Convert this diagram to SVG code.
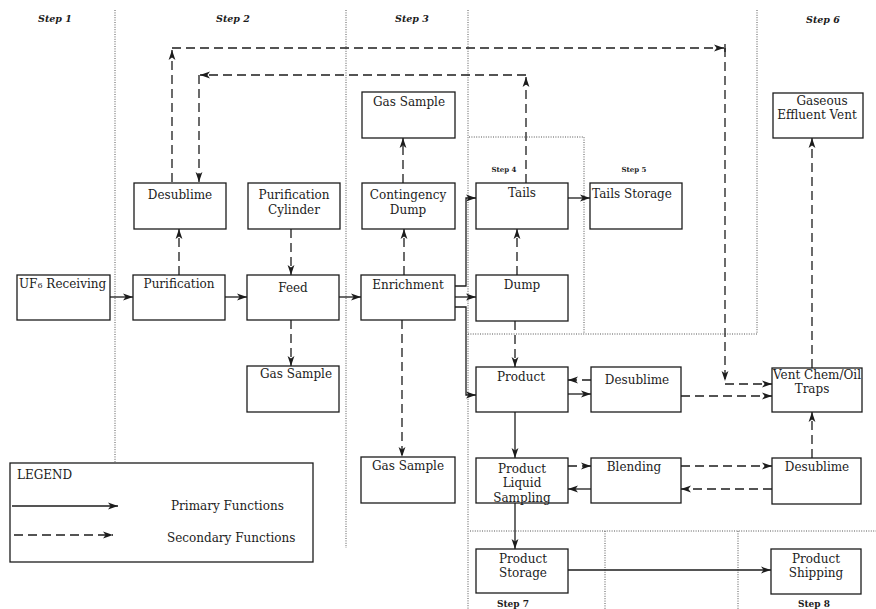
<svg xmlns="http://www.w3.org/2000/svg" width="876" height="609" viewBox="0 0 876 609">
  <style>
    .bg { fill: #ffffff; }
    .box { fill: #ffffff; stroke: #1c1c1c; stroke-width: 1.3; }
    .t { font-family: "DejaVu Serif", "Liberation Serif", serif; font-size: 12px; fill: #1c1c1c; text-anchor: middle; }
    .tl { text-anchor: start; }
    .step { font-family: "DejaVu Serif", "Liberation Serif", serif; font-size: 9.5px; font-weight: bold; font-style: italic; fill: #1c1c1c; text-anchor: middle; }
    .stepS { font-family: "DejaVu Serif", "Liberation Serif", serif; font-size: 7px; font-weight: bold; fill: #1c1c1c; text-anchor: middle; }
    .stepB { font-family: "DejaVu Serif", "Liberation Serif", serif; font-size: 9px; font-weight: bold; fill: #1c1c1c; text-anchor: middle; }
    .div { fill: none; stroke: #555555; stroke-width: 1; stroke-dasharray: 1 1.4; }
    .pri { fill: none; stroke: #1c1c1c; stroke-width: 1.3; marker-end: url(#ah); }
    .pl { fill: none; stroke: #1c1c1c; stroke-width: 1.3; }
    .sec { fill: none; stroke: #1c1c1c; stroke-width: 1.3; stroke-dasharray: 9 5; marker-end: url(#ah); }
  </style>
  <defs>
    <marker id="ah" markerUnits="userSpaceOnUse" markerWidth="10" markerHeight="8" viewBox="0 0 10 8" refX="10" refY="4" orient="auto">
      <path d="M0,0.6 L10,4 L0,7.4 L2.6,4 z" fill="#1c1c1c" stroke="none"/>
    </marker>
  </defs>

  <rect class="bg" x="0" y="0" width="876" height="609"/>

  <!-- step dividers -->
  <g id="dividers">
    <path class="div" d="M115,10 V462"/>
    <path class="div" d="M346,10 V548"/>
    <path class="div" d="M468,10 V609"/>
    <path class="div" d="M757,10 V334"/>
    <path class="div" d="M469,137 H584 V334"/>
    <path class="div" d="M468,334 H757"/>
    <path class="div" d="M470,531 H876"/>
    <path class="div" d="M605,531 V609"/>
    <path class="div" d="M738,531 V609"/>
  </g>

  <!-- step labels -->
  <g id="step-labels">
    <text class="step" x="55" y="22">Step 1</text>
    <text class="step" x="233" y="22">Step 2</text>
    <text class="step" x="412" y="22">Step 3</text>
    <text class="step" x="823" y="23">Step 6</text>
    <text class="stepS" x="504" y="172">Step 4</text>
    <text class="stepS" x="634" y="172">Step 5</text>
    <text class="stepB" x="513" y="607">Step 7</text>
    <text class="stepB" x="814" y="607">Step 8</text>
  </g>

  <!-- connectors -->
  <g id="connectors">
    <!-- primary flow -->
    <path class="pri" d="M110,297 H133"/>
    <path class="pri" d="M225,297 H247"/>
    <path class="pri" d="M339,297 H361"/>
    <path class="pri" d="M455,286 H466 V198 H476"/>
    <path class="pri" d="M455,297 H476"/>
    <path class="pri" d="M455,307 H466 V395 H476"/>
    <path class="pri" d="M568,198 H590"/>
    <path class="pri" d="M568,394 H591"/>
    <path class="pri" d="M515,412 V458"/>
    <path class="pri" d="M591,489 H568"/>
    <path class="pri" d="M515,503 V549"/>
    <path class="pri" d="M568,570 H771"/>

    <!-- secondary flow -->
    <path class="sec" d="M179,275 V229"/>
    <path class="sec" d="M291,229 V275"/>
    <path class="sec" d="M291,320 V366"/>
    <path class="sec" d="M404,275 V229"/>
    <path class="sec" d="M403,183 V138"/>
    <path class="sec" d="M402,320 V457"/>
    <path class="sec" d="M517,275 V229"/>
    <path class="sec" d="M515,321 V367"/>
    <path class="sec" d="M591,380 H568"/>
    <path class="sec" d="M681,396 H772"/>
    <path class="sec" d="M568,466 H591"/>
    <path class="sec" d="M681,466 H772"/>
    <path class="sec" d="M772,489 H681"/>
    <path class="sec" d="M812,458 V412"/>
    <path class="sec" d="M812,368 V138"/>

    <!-- desublime vent return loop -->
    <path class="sec" d="M172,182 V50"/>
    <path class="sec" d="M172,48 H724"/>
    <path class="pl" d="M725,44 V52"/>
    <path class="sec" d="M725,48 V381"/>
    <path class="sec" d="M725,384 H772"/>

    <!-- tails return loop -->
    <path class="sec" d="M526,183 V77"/>
    <path class="sec" d="M526,75 H200"/>
    <path class="sec" d="M199,75 V182"/>
  </g>

  <!-- nodes -->
  <g id="uf6-receiving">
    <rect class="box" x="17" y="275" width="93" height="45"/>
    <text class="t tl" x="19" y="288">UF<tspan font-size="8">6</tspan> Receiving</text>
  </g>
  <g id="purification">
    <rect class="box" x="133" y="275" width="92" height="45"/>
    <text class="t" x="179" y="288">Purification</text>
  </g>
  <g id="feed">
    <rect class="box" x="247" y="275" width="92" height="45"/>
    <text class="t" x="293" y="292">Feed</text>
  </g>
  <g id="enrichment">
    <rect class="box" x="361" y="275" width="94" height="45"/>
    <text class="t" x="408" y="289">Enrichment</text>
  </g>
  <g id="desublime-2">
    <rect class="box" x="134" y="183" width="92" height="46"/>
    <text class="t" x="180" y="199">Desublime</text>
  </g>
  <g id="purification-cylinder">
    <rect class="box" x="248" y="183" width="92" height="46"/>
    <text class="t" x="294" y="199">Purification</text>
    <text class="t" x="294" y="214">Cylinder</text>
  </g>
  <g id="contingency-dump">
    <rect class="box" x="362" y="183" width="93" height="46"/>
    <text class="t" x="408" y="199">Contingency</text>
    <text class="t" x="408" y="214">Dump</text>
  </g>
  <g id="gas-sample-3a">
    <rect class="box" x="362" y="92" width="93" height="46"/>
    <text class="t" x="409" y="106">Gas Sample</text>
  </g>
  <g id="gas-sample-feed">
    <rect class="box" x="247" y="366" width="92" height="46"/>
    <text class="t" x="296" y="378">Gas Sample</text>
  </g>
  <g id="gas-sample-3b">
    <rect class="box" x="361" y="457" width="94" height="46"/>
    <text class="t" x="408" y="470">Gas Sample</text>
  </g>
  <g id="tails">
    <rect class="box" x="476" y="183" width="92" height="46"/>
    <text class="t" x="522" y="197">Tails</text>
  </g>
  <g id="tails-storage">
    <rect class="box" x="590" y="183" width="92" height="46"/>
    <text class="t" x="632" y="198">Tails Storage</text>
  </g>
  <g id="dump">
    <rect class="box" x="476" y="275" width="92" height="46"/>
    <text class="t" x="522" y="289">Dump</text>
  </g>
  <g id="product">
    <rect class="box" x="476" y="367" width="92" height="45"/>
    <text class="t" x="521" y="381">Product</text>
  </g>
  <g id="desublime-5">
    <rect class="box" x="591" y="367" width="90" height="45"/>
    <text class="t" x="637" y="384">Desublime</text>
  </g>
  <g id="vent-chem-oil-traps">
    <rect class="box" x="772" y="368" width="90" height="44"/>
    <text class="t" x="817" y="379">Vent Chem/Oil</text>
    <text class="t" x="812" y="393">Traps</text>
  </g>
  <g id="gaseous-effluent-vent">
    <rect class="box" x="773" y="93" width="90" height="45"/>
    <text class="t" x="822" y="105">Gaseous</text>
    <text class="t" x="817" y="119">Effluent Vent</text>
  </g>
  <g id="product-liquid-sampling">
    <rect class="box" x="476" y="458" width="92" height="45"/>
    <text class="t" x="522" y="473">Product</text>
    <text class="t" x="522" y="487">Liquid</text>
    <text class="t" x="522" y="502">Sampling</text>
  </g>
  <g id="blending">
    <rect class="box" x="591" y="458" width="90" height="45"/>
    <text class="t" x="634" y="471">Blending</text>
  </g>
  <g id="desublime-6">
    <rect class="box" x="772" y="458" width="89" height="46"/>
    <text class="t" x="817" y="471">Desublime</text>
  </g>
  <g id="product-storage">
    <rect class="box" x="476" y="549" width="92" height="44"/>
    <text class="t" x="523" y="563">Product</text>
    <text class="t" x="523" y="577">Storage</text>
  </g>
  <g id="product-shipping">
    <rect class="box" x="771" y="549" width="90" height="45"/>
    <text class="t" x="816" y="563">Product</text>
    <text class="t" x="816" y="577">Shipping</text>
  </g>

  <!-- legend -->
  <g id="legend">
    <rect class="box" x="10" y="463" width="303" height="99"/>
    <text class="t tl" x="17" y="479" font-size="13">LEGEND</text>
    <path class="pri" d="M12,506 H118"/>
    <text class="t tl" x="171" y="510">Primary Functions</text>
    <path class="sec" d="M14,535 H113"/>
    <text class="t tl" x="167" y="542">Secondary Functions</text>
  </g>
</svg>
